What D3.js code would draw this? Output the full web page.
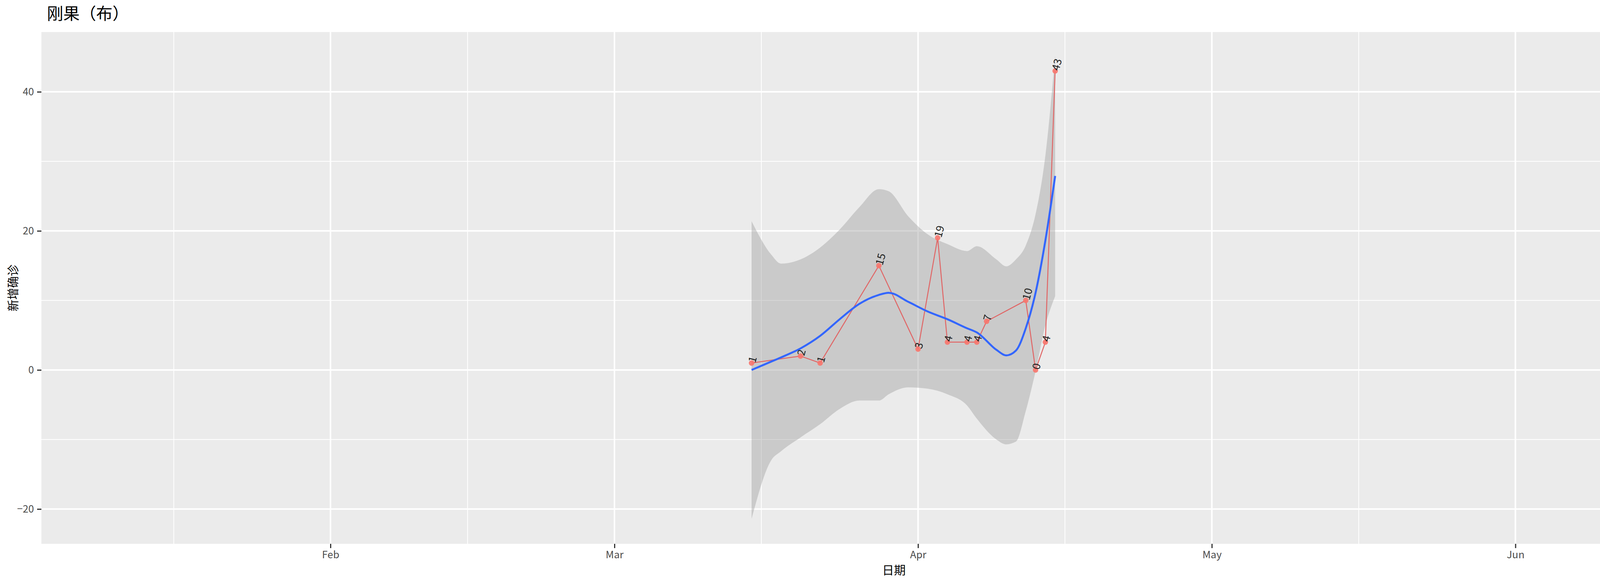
<!DOCTYPE html>
<html>
<head>
<meta charset="utf-8">
<script src="https://cdn.jsdelivr.net/npm/d3@7"></script>
<style>
  html, body { margin: 0; padding: 0; background: #fff; overflow: hidden; }
  svg { display: block; }
  text { font-family: "Noto Sans CJK SC", "Noto Sans", sans-serif; }
</style>
</head>
<body>
<div id="chart"></div>
<script>
// daily cases
const caseDates = ["2020-03-15", "2020-03-20", "2020-03-22", "2020-03-28", "2020-04-01", "2020-04-03",
	"2020-04-04", "2020-04-06", "2020-04-07", "2020-04-08", "2020-04-12", "2020-04-13", "2020-04-14", "2020-04-15"];
const caseValues = [1, 2, 1, 15, 3, 19, 4, 4, 4, 7, 10, 0, 4, 43];

// smoothed fit
const fitDates = ["2020-03-15", "2020-03-17", "2020-03-18", "2020-03-20", "2020-03-22", "2020-03-24", "2020-03-26",
	"2020-03-28", "2020-03-29", "2020-03-31", "2020-04-02", "2020-04-04", "2020-04-06", "2020-04-07",
	"2020-04-09", "2020-04-10", "2020-04-11", "2020-04-12", "2020-04-13", "2020-04-14", "2020-04-15"];
const fitValues = [0, 1.2, 1.8, 3.1, 4.9, 7.3, 9.5, 10.8, 11.1, 9.8, 8.4, 7.3, 6.0, 5.4, 2.9, 2.1, 2.8, 6.0, 11.1, 18.6, 27.9];
const fitUpper = [21.4, 16.6, 15.3, 15.9, 17.6, 20.2, 23.4, 26.0, 25.7, 22.1, 19.5, 18.1, 17.1, 17.8, 15.9, 14.9, 15.9, 17.9, 22.4, 30.8, 45.2];
const fitLower = [-21.4, -13.0, -11.7, -9.7, -7.8, -5.6, -4.4, -4.4, -3.5, -2.5, -2.7, -3.5, -5.1, -7.0, -10.0, -10.7, -10.3, -5.9, -0.2, 6.4, 10.6];

const yTicks = [-20, 0, 20, 40];
const yMinor = [-10, 10, 30];
const xTicks = ["2020-02-01", "2020-03-01", "2020-04-01", "2020-05-01", "2020-06-01"];
const xMinor = ["2020-01-16", "2020-02-15", "2020-03-16", "2020-04-16", "2020-05-16", "2020-06-16"];
const xTickLabels = ["Feb", "Mar", "Apr", "May", "Jun"];

const W = 4500, H = 1500;
const margin = { top: 82, right: 29, bottom: 108, left: 106 };
const parse = d3.utcParse("%Y-%m-%d");

const svg = d3.select("#chart").append("svg")
	.attr("width", W)
	.attr("height", H);

// Feb 1 sits at x=846, about 25.07 px per day
const day = 86400000;
const feb1 = parse("2020-02-01").getTime();
const x = d3.scaleUtc()
	.domain([new Date(feb1 - (846 - margin.left) / 25.07 * day),
		new Date(feb1 + (W - margin.right - 846) / 25.07 * day)])
	.range([margin.left, W - margin.right]);

const y = d3.scaleLinear()
	.domain([-25.0, 48.6])
	.range([H - margin.bottom, margin.top]);

// panel
svg.append("rect")
	.attr("x", margin.left).attr("y", margin.top)
	.attr("width", W - margin.left - margin.right)
	.attr("height", H - margin.top - margin.bottom)
	.attr("fill", "#ebebeb");

const grid = svg.append("g");
grid.selectAll(".ym").data(yMinor).enter().append("line")
	.attr("x1", margin.left).attr("x2", W - margin.right)
	.attr("y1", d => y(d)).attr("y2", d => y(d))
	.attr("stroke", "#fff").attr("stroke-width", 2);
grid.selectAll(".xm").data(xMinor).enter().append("line")
	.attr("y1", margin.top).attr("y2", H - margin.bottom)
	.attr("x1", d => x(parse(d))).attr("x2", d => x(parse(d)))
	.attr("stroke", "#fff").attr("stroke-width", 2);
grid.selectAll(".yM").data(yTicks).enter().append("line")
	.attr("x1", margin.left).attr("x2", W - margin.right)
	.attr("y1", d => y(d)).attr("y2", d => y(d))
	.attr("stroke", "#fff").attr("stroke-width", 4);
grid.selectAll(".xM").data(xTicks).enter().append("line")
	.attr("y1", margin.top).attr("y2", H - margin.bottom)
	.attr("x1", d => x(parse(d))).attr("x2", d => x(parse(d)))
	.attr("stroke", "#fff").attr("stroke-width", 4);

// axes
const xAxis = d3.axisBottom(x)
	.tickValues(xTicks.map(parse))
	.tickFormat((d, i) => xTickLabels[i])
	.tickSize(11).tickPadding(8);
const yAxis = d3.axisLeft(y)
	.tickValues(yTicks)
	.tickSize(11).tickPadding(8);

const gx = svg.append("g")
	.attr("transform", "translate(0," + (H - margin.bottom) + ")")
	.call(xAxis);
const gy = svg.append("g")
	.attr("transform", "translate(" + margin.left + ",0)")
	.call(yAxis);
[gx, gy].forEach(g => {
	g.select(".domain").remove();
	g.selectAll(".tick line").attr("stroke", "#333").attr("stroke-width", 3);
	g.selectAll(".tick text").attr("fill", "#4d4d4d").style("font-size", "26px");
});

// ribbon
const fit = fitDates.map((d, i) => ({ date: parse(d), v: fitValues[i], lo: fitLower[i], hi: fitUpper[i] }));
const plot = svg.append("g");
plot.append("path")
	.datum(fit)
	.attr("fill", "#999999")
	.attr("fill-opacity", 0.4)
	.attr("d", d3.area()
		.x(d => x(d.date))
		.y0(d => y(d.lo))
		.y1(d => y(d.hi))
		.curve(d3.curveMonotoneX));

// cases
const cases = caseDates.map((d, i) => ({ date: parse(d), v: caseValues[i] }));
plot.append("path")
	.datum(cases)
	.attr("fill", "none")
	.attr("stroke", "#e06666")
	.attr("stroke-width", 2.5)
	.attr("d", d3.line().x(d => x(d.date)).y(d => y(d.v)));

// fit line
plot.append("path")
	.datum(fit)
	.attr("fill", "none")
	.attr("stroke", "#3366FF")
	.attr("stroke-width", 5)
	.attr("d", d3.line()
		.x(d => x(d.date))
		.y(d => y(d.v))
		.curve(d3.curveMonotoneX));

plot.selectAll(".pt").data(cases).enter().append("circle")
	.attr("cx", d => x(d.date))
	.attr("cy", d => y(d.v))
	.attr("r", 7)
	.attr("fill", "#F8766D")
	.attr("fill-opacity", 0.9);

plot.selectAll(".lbl").data(cases).enter().append("text")
	.attr("transform", d => "translate(" + x(d.date) + "," + y(d.v) + ") rotate(-75)")
	.attr("x", 2)
	.attr("dy", "0.35em")
	.attr("fill", "#222")
	.style("font-size", "27px")
	.text(d => d.v);

// titles
svg.append("text")
	.attr("x", 120).attr("y", 50)
	.style("font-size", "42px")
	.text("刚果（布）");
svg.append("text")
	.attr("x", (margin.left + W - margin.right) / 2)
	.attr("y", 1470)
	.attr("text-anchor", "middle")
	.style("font-size", "30px")
	.text("日期");
svg.append("text")
	.attr("transform", "translate(44," + ((margin.top + H - margin.bottom) / 2) + ") rotate(-90)")
	.attr("text-anchor", "middle")
	.style("font-size", "30px")
	.text("新增确诊");
</script>
</body>
</html>
